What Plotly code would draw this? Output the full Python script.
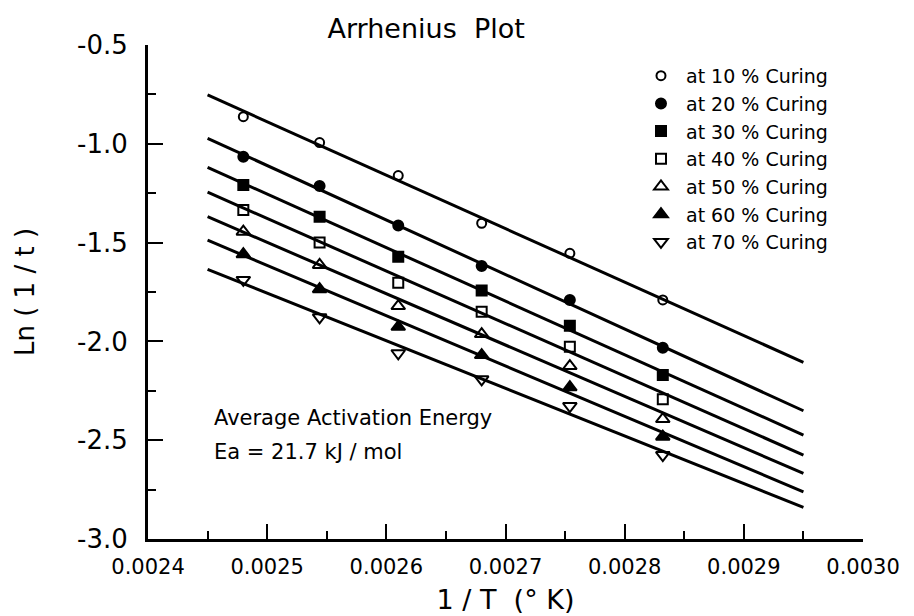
import plotly.graph_objects as go

# ---- data ----
inv_T = [0.00248, 0.002544, 0.00261, 0.00268, 0.002754, 0.002832]

series_names = ["at 10 % Curing", "at 20 % Curing", "at 30 % Curing", "at 40 % Curing",
                "at 50 % Curing", "at 60 % Curing", "at 70 % Curing"]
ln_10 = [-0.863, -0.994, -1.161, -1.402, -1.554, -1.790]
ln_20 = [-1.065, -1.214, -1.414, -1.618, -1.790, -2.032]
ln_30 = [-1.209, -1.369, -1.571, -1.743, -1.921, -2.170]
ln_40 = [-1.335, -1.500, -1.703, -1.850, -2.027, -2.293]
ln_50 = [-1.445, -1.613, -1.821, -1.963, -2.125, -2.393]
ln_60 = [-1.559, -1.736, -1.926, -2.069, -2.232, -2.482]
ln_70 = [-1.689, -1.878, -2.060, -2.192, -2.327, -2.575]
series_values = [ln_10, ln_20, ln_30, ln_40, ln_50, ln_60, ln_70]

# fitted straight lines (ends)
fit_x = [0.00245, 0.00295]
fit_start = [-0.753, -0.972, -1.119, -1.245, -1.369, -1.488, -1.635]
fit_end = [-2.106, -2.351, -2.474, -2.575, -2.668, -2.761, -2.840]

x_tick_vals = [0.0024, 0.0025, 0.0026, 0.0027, 0.0028, 0.0029, 0.0030]
x_tick_text = ["0.0024", "0.0025", "0.0026", "0.0027", "0.0028", "0.0029", "0.0030"]
y_tick_vals = [-0.5, -1.0, -1.5, -2.0, -2.5, -3.0]
y_tick_text = ["-0.5", "-1.0", "-1.5", "-2.0", "-2.5", "-3.0"]

# ---- styles ----
symbols = ["circle-open", "circle", "square", "square-open",
           "triangle-up-open", "triangle-up", "triangle-down-open"]
sizes = [9, 10, 10, 10, 12, 12, 12]
FONT = "DejaVu Sans"

fig = go.Figure()

for i in range(len(series_names)):
    fig.add_trace(go.Scatter(
        x=fit_x, y=[fit_start[i], fit_end[i]], mode="lines",
        line=dict(color="black", width=3), showlegend=False, hoverinfo="skip"))

for i, name in enumerate(series_names):
    fig.add_trace(go.Scatter(
        x=inv_T, y=series_values[i], mode="markers", name=name,
        marker=dict(symbol=symbols[i], size=sizes[i], color="black",
                    line=dict(color="black", width=2))))

fig.update_layout(
    width=914, height=616,
    margin=dict(l=148, r=51, t=45, b=77),
    paper_bgcolor="white", plot_bgcolor="white",
    font=dict(family=FONT, color="black"),
    title=dict(text="Arrhenius  Plot", x=0.389, xref="paper", xanchor="center",
               y=0.953, yanchor="middle", font=dict(size=27, family=FONT, color="black")),
    legend=dict(x=0.6825, y=0.976, xanchor="left", yanchor="top",
                font=dict(size=19, family=FONT, color="black"),
                bgcolor="rgba(0,0,0,0)", borderwidth=0, tracegroupgap=0,
                itemwidth=40),
    annotations=[
        dict(text="Average Activation Energy", xref="paper", yref="paper",
             x=0.0895, y=0.245, xanchor="left", yanchor="middle", showarrow=False,
             font=dict(size=21, family=FONT, color="black")),
        dict(text="Ea = 21.7 kJ / mol", xref="paper", yref="paper",
             x=0.0895, y=0.176, xanchor="left", yanchor="middle", showarrow=False,
             font=dict(size=21, family=FONT, color="black")),
    ],
)

fig.update_xaxes(
    range=[0.0024, 0.0030], showgrid=False, zeroline=False, automargin=False,
    showline=True, linecolor="black", linewidth=3, mirror=False,
    tickmode="array", tickvals=x_tick_vals, ticktext=x_tick_text,
    ticks="inside", ticklen=15, tickwidth=2, tickcolor="black",
    ticklabelstandoff=7,
    tickfont=dict(size=21, family=FONT, color="black"),
    minor=dict(ticks="inside", ticklen=8, tickwidth=2, tickcolor="black",
               tickvals=[0.00245, 0.00255, 0.00265, 0.00275, 0.00285, 0.00295], showgrid=False),
    title=dict(text="1 / T  (° K)", font=dict(size=27, family=FONT, color="black"), standoff=12),
)

fig.update_yaxes(
    range=[-3.0, -0.5], showgrid=False, zeroline=False, automargin=False,
    showline=True, linecolor="black", linewidth=3, mirror=False,
    tickmode="array", tickvals=y_tick_vals, ticktext=y_tick_text,
    ticks="inside", ticklen=15, tickwidth=2, tickcolor="black",
    ticklabelstandoff=12,
    tickfont=dict(size=26, family=FONT, color="black"),
    minor=dict(ticks="inside", ticklen=8, tickwidth=2, tickcolor="black",
               tickvals=[-0.75, -1.25, -1.75, -2.25, -2.75], showgrid=False),
    title=dict(text="Ln ( 1 / t )", font=dict(size=26, family=FONT, color="black"), standoff=35),
)

fig.write_html("out.html")
